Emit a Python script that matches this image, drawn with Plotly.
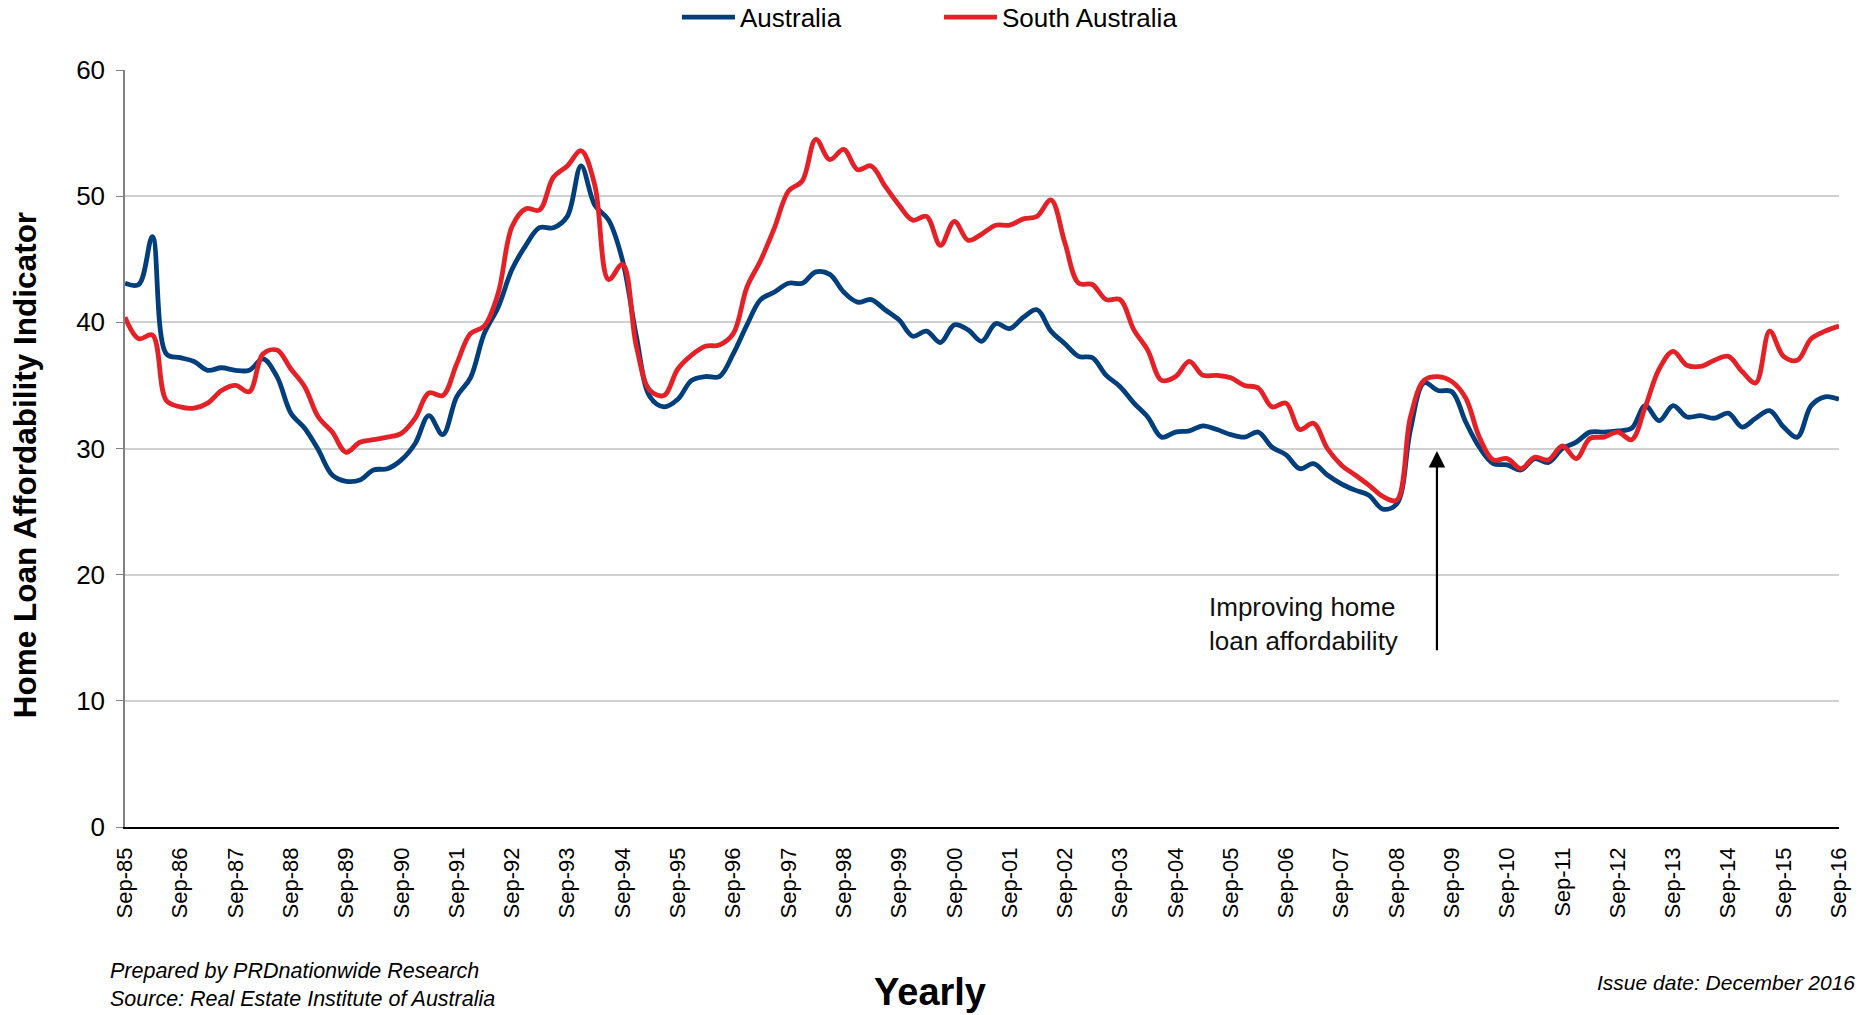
import pandas as pd
import plotly.graph_objects as go

# Quarterly observations, Sep-85 .. Sep-16
quarters = pd.date_range(start="1985-09-01", periods=125, freq="3MS").strftime("%Y-%m-%d").tolist()

australia = [
    43.1, 43.0, 46.8, 37.5, 37.2, 36.9, 36.2, 36.4, 36.2, 36.2,
    37.1, 35.7, 32.8, 31.6, 29.9, 27.9, 27.4, 27.5, 28.3, 28.4,
    29.1, 30.4, 32.6, 31.1, 34.1, 35.6, 39.1, 41.2, 44.2, 46.1,
    47.5, 47.5, 48.4, 52.4, 49.3, 48.1, 44.9, 38.9, 34.1, 33.3,
    33.9, 35.4, 35.7, 35.7, 37.5, 39.8, 41.8, 42.4, 43.1, 43.1,
    44.0, 43.8, 42.4, 41.6, 41.8, 41.0, 40.2, 38.9, 39.3, 38.4,
    39.8, 39.4, 38.5, 39.9, 39.5, 40.4, 41.0, 39.3, 38.3, 37.3,
    37.2, 35.8, 34.9, 33.6, 32.5, 30.9, 31.3, 31.4, 31.8, 31.5,
    31.1, 30.9, 31.3, 30.1, 29.5, 28.4, 28.8, 27.9, 27.2, 26.7,
    26.3, 25.2, 25.6, 31.5, 35.2, 34.6, 34.5, 32.1, 30.1, 28.8,
    28.7, 28.3, 29.2, 28.9, 30.0, 30.5, 31.3, 31.3, 31.4, 31.6,
    33.4, 32.2, 33.4, 32.5, 32.6, 32.4, 32.8, 31.7, 32.4, 33.0,
    31.7, 30.9, 33.4, 34.1, 33.9,
]

south_australia = [
    40.4, 38.7, 39.0, 33.8, 33.3, 33.2, 33.6, 34.6, 35.0, 34.5,
    37.5, 37.8, 36.3, 34.9, 32.5, 31.3, 29.7, 30.5, 30.7, 30.9,
    31.2, 32.4, 34.4, 34.2, 36.7, 39.1, 39.7, 42.3, 47.6, 49.0,
    48.9, 51.5, 52.4, 53.6, 50.9, 43.4, 44.6, 38.1, 34.6, 34.2,
    36.3, 37.4, 38.1, 38.2, 39.1, 42.8, 44.9, 47.5, 50.4, 51.2,
    54.5, 52.9, 53.7, 52.1, 52.4, 50.8, 49.3, 48.1, 48.4, 46.1,
    48.0, 46.5, 47.0, 47.7, 47.7, 48.2, 48.4, 49.7, 46.3, 43.1,
    43.0, 41.8, 41.8, 39.4, 37.8, 35.4, 35.7, 36.9, 35.8, 35.8,
    35.6, 35.0, 34.8, 33.3, 33.6, 31.5, 32.0, 30.0, 28.7, 27.9,
    27.1, 26.2, 25.9, 32.5, 35.4, 35.7, 35.3, 34.0, 30.9, 29.1,
    29.2, 28.4, 29.3, 29.1, 30.2, 29.2, 30.8, 30.9, 31.3, 30.7,
    33.3, 36.3, 37.7, 36.6, 36.5, 37.0, 37.3, 36.1, 35.2, 39.3,
    37.3, 37.0, 38.7, 39.3, 39.7,
]

tick_dates = [f"{y}-09-01" for y in range(1985, 2017)]
tick_labels = [f"Sep-{y % 100:02d}" for y in range(1985, 2017)]

FONT = "Liberation Sans, Arial, sans-serif"
BLUE = "#013f7c"
RED = "#e42127"

fig = go.Figure()
fig.add_trace(go.Scatter(x=quarters, y=australia, name="Australia", mode="lines",
                         line=dict(color=BLUE, width=4.8, shape="spline", smoothing=1)))
fig.add_trace(go.Scatter(x=quarters, y=south_australia, name="South Australia", mode="lines",
                         line=dict(color=RED, width=4.8, shape="spline", smoothing=1)))

fig.update_layout(
    width=1863, height=1015,
    margin=dict(l=125, r=22, t=70, b=188),
    paper_bgcolor="white", plot_bgcolor="white",
    font=dict(family=FONT, color="#000000"),
    showlegend=True,
    legend=dict(orientation="h", xref="container", yref="container",
                x=0.504, xanchor="center", y=0.983, yanchor="middle",
                font=dict(size=26, family=FONT), itemwidth=53,
                entrywidth=194, entrywidthmode="pixels",
                bgcolor="rgba(0,0,0,0)"),
    xaxis=dict(type="date", range=["1985-09-01", "2016-09-01"],
               tickvals=tick_dates, ticktext=tick_labels, tickangle=-90,
               tickfont=dict(size=22, family=FONT), showgrid=False,
               showline=True, linecolor="#000000", linewidth=1.5,
               ticks="outside", ticklen=10, tickcolor="rgba(0,0,0,0)",
               zeroline=False),
    yaxis=dict(range=[0, 60], dtick=10, tickfont=dict(size=26, family=FONT),
               showgrid=True, gridcolor="#d0d0d0", gridwidth=1.5,
               showline=True, linecolor="#808080", linewidth=1.5,
               ticks="outside", ticklen=7, tickcolor="#808080", zeroline=False,
               ticklabelstandoff=6),
)

annotations = [
    dict(text="<b>Home Loan Affordability Indicator</b>", xref="paper", yref="paper",
         x=-0.0583, y=0.478, xanchor="center", yanchor="middle", textangle=-90,
         showarrow=False, font=dict(size=31.5, family=FONT, color="#000000")),
    dict(text="<b>Yearly</b>", xref="paper", yref="paper", x=0.4697, y=-0.218,
         xanchor="center", yanchor="middle",
         showarrow=False, font=dict(size=38, family=FONT, color="#000000")),
    dict(text="<i>Prepared by PRDnationwide Research<br>Source: Real Estate Institute of Australia</i>",
         xref="paper", yref="paper", x=-0.0102, y=-0.2087, xanchor="left", yanchor="middle",
         align="left", showarrow=False, font=dict(size=21.5, family=FONT, color="#000000")),
    dict(text="<i>Issue date: December 2016</i>", xref="paper", yref="paper",
         x=1.0105, y=-0.206, xanchor="right", yanchor="middle", showarrow=False,
         font=dict(size=21, family=FONT, color="#000000")),
    dict(text="Improving home<br>loan affordability", xref="paper", yref="paper",
         x=0.6876, y=0.268, xanchor="center", yanchor="middle", align="left",
         showarrow=False, font=dict(size=26, family=FONT, color="#111111")),
    dict(text="", x="2009-05-25", y=29.8, ax="2009-05-25", ay=13.9,
         xref="x", yref="y", axref="x", ayref="y", showarrow=True,
         arrowhead=2, arrowsize=1.5, arrowwidth=2.2, arrowcolor="#000000"),
]
fig.update_layout(annotations=annotations)

fig.write_html("out.html", config={"displayModeBar": False},
               post_script="document.body.style.margin='0';")
